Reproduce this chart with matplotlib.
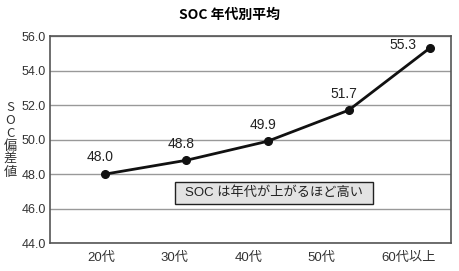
import matplotlib
matplotlib.use("Agg")
import matplotlib.pyplot as plt
from matplotlib.patches import Rectangle

plt.rcParams['font.family'] = ['Liberation Sans', 'Noto Sans CJK JP', 'DejaVu Sans']

categories = ["20代", "30代", "40代", "50代", "60代以上"]
values = [48.0, 48.8, 49.9, 51.7, 55.3]
yticks = [44.0, 46.0, 48.0, 50.0, 52.0, 54.0, 56.0]

fig = plt.figure(figsize=(4.6, 2.71), dpi=100)
ax = fig.add_axes([0.109, 0.103, 0.871, 0.764])

x = list(range(len(categories)))
ax.plot(x, values, color="#111111", lw=2, marker="o", ms=5.5, zorder=3)
for i, (xi, v) in enumerate(zip(x, values)):
    if i == len(values) - 1:
        off = (-19, 2)
    else:
        off = (-3.5, 12)
    ax.annotate(f"{v:.1f}", (xi, v), xytext=off, textcoords="offset points",
                ha="center", va="center", fontsize=10, color="#222222")

ax.set_ylim(44, 56)
ax.set_xlim(-0.68, 4.26)
ax.set_yticks(yticks)
ax.set_yticklabels([f"{t:.1f}" for t in yticks], fontsize=9, color="#333333")
label_pos = [i * 0.905 - 0.22 for i in x]
ax.set_xticks(label_pos)
ax.set_xticklabels(categories, fontsize=9.5, color="#333333", ha="left")
ax.tick_params(length=0, pad=3)
ax.tick_params(axis="x", pad=6)
ax.yaxis.grid(True, color="#999999", lw=1)
ax.set_axisbelow(True)
for s in ax.spines.values():
    s.set_color("#555555")
    s.set_linewidth(1.2)

fig.text(0.5, 0.945, "SOC 年代別平均", ha="center", va="center", fontsize=10,
         fontweight="bold", family=['Noto Sans CJK JP', 'DejaVu Sans'])
fig.text(0.022, 0.485, "S\nO\nC\n偏\n差\n値", ha="center", va="center", fontsize=9.5,
         color="#333333", linespacing=1.0, family=['Noto Sans CJK JP', 'DejaVu Sans'])

ax.add_patch(Rectangle((0.312, 0.188), 0.494, 0.106, transform=ax.transAxes,
                       fc="#e3e3e3", ec="#222222", lw=1, zorder=4))
ax.text(0.559, 0.242, "SOC は年代が上がるほど高い", transform=ax.transAxes, ha="center",
        va="center", fontsize=9.5, color="#222222", zorder=5)

fig.savefig("out.png", dpi=100)
